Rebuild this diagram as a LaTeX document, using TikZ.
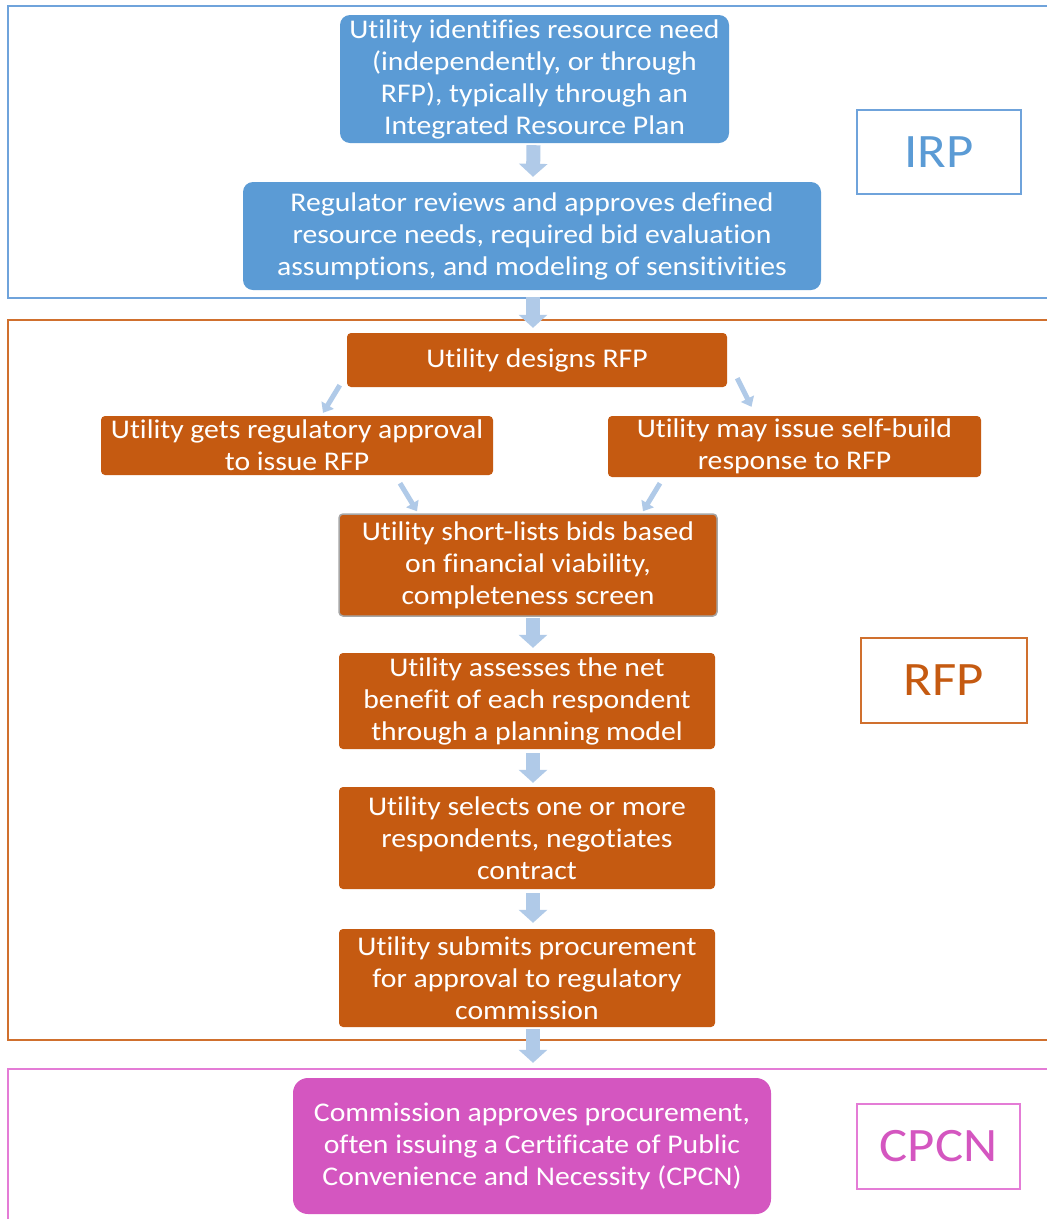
\documentclass[tikz,border=0pt]{standalone}
\usepackage{fontspec}
\setmainfont[FakeStretch=1.1,Ligatures=NoCommon]{Carlito}
\usetikzlibrary{arrows.meta,calc}
\definecolor{blueb}{HTML}{5B9BD5}
\definecolor{orangeb}{HTML}{C55A11}
\definecolor{pinkb}{HTML}{D456C0}
\definecolor{arrowc}{HTML}{B0CAE8}
\definecolor{irpframe}{HTML}{6FA3DB}
\definecolor{rfpframe}{HTML}{D0702E}
\definecolor{cpcnframe}{HTML}{E47CD6}
\begin{document}
\begin{tikzpicture}[x=1pt,y=-1pt,
  box/.style={text=white, align=center, font=\fontsize{27}{32}\selectfont, inner sep=0pt, rectangle},
  bluebox/.style={box, fill=blueb, rounded corners=10pt},
  orangebox/.style={box, fill=orangeb, rounded corners=4pt},
  pinkbox/.style={box, fill=pinkb, rounded corners=15pt},
  tag/.style={draw, line width=1.5pt, fill=white, inner sep=0pt, font=\fontsize{48}{52}\selectfont},
  frame/.style={line width=2pt},
  blockarrow/.style={draw=arrowc, line width=14pt, -{Triangle[width=28pt,length=13pt]}},
  thinarrow/.style={draw=arrowc, line width=5pt, -{Triangle[width=14pt,length=9pt]}}
  ]
\clip (0,0) rectangle (1047,1219);
\fill[white] (0,0) rectangle (1047,1219);
% frames
\draw[frame, irpframe] (8,6) rectangle (1070,298);
\draw[frame, rfpframe] (8,320) rectangle (1070,1040);
\draw[frame, cpcnframe] (8,1069) rectangle (1070,1260);
% IRP section
\node[bluebox, minimum width=389pt, minimum height=128pt] (b1) at (534.5,79)
  {Utility identifies resource need\\(independently, or through\\RFP), typically through an\\Integrated Resource Plan};
\node[bluebox, minimum width=578pt, minimum height=108pt] (b2) at (532,236)
  {Regulator reviews and approves defined\\resource needs, required bid evaluation\\assumptions, and modeling of sensitivities};
\node[tag, draw=irpframe, text=blueb, minimum width=164pt, minimum height=84pt] (irp) at (939,152) {IRP};
% RFP section
\node[orangebox, minimum width=380pt, minimum height=54pt] (design) at (537,360) {Utility designs RFP};
\node[orangebox, minimum width=392pt, minimum height=59pt] (gets) at (297,445.5)
  {Utility gets regulatory approval\\to issue RFP};
\node[orangebox, minimum width=373pt, minimum height=61pt] (self) at (794.5,446.5)
  {Utility may issue self-build\\response to RFP};
\node[orangebox, draw=gray!70, line width=1.5pt, minimum width=378pt, minimum height=102pt] (short) at (528,565)
  {Utility short-lists bids based\\on financial viability,\\completeness screen};
\node[orangebox, minimum width=376pt, minimum height=96pt] (assess) at (527,701)
  {Utility assesses the net\\benefit of each respondent\\through a planning model};
\node[orangebox, minimum width=376pt, minimum height=102pt] (select) at (527,838)
  {Utility selects one or more\\respondents, negotiates\\contract};
\node[orangebox, minimum width=376pt, minimum height=98pt] (submit) at (527,978)
  {Utility submits procurement\\for approval to regulatory\\commission};
\node[tag, draw=rfpframe, text=orangeb, minimum width=166pt, minimum height=85pt] (rfp) at (944,680.5) {RFP};
% CPCN section
\node[pinkbox, minimum width=478pt, minimum height=136pt] (cpcn) at (532,1146)
  {Commission approves procurement,\\often issuing a Certificate of Public\\Convenience and Necessity (CPCN)};
\node[tag, draw=cpcnframe, text=pinkb, minimum width=163pt, minimum height=85pt] (cpcntag) at (938.5,1146.5) {CPCN};
% arrows
\draw[blockarrow] ($(b1.south)+(-1,2)$) -- ($(b2.north)+(1,-5)$);
\draw[blockarrow] ($(b2.south)+(1,7)$) -- ($(design.north)+(-4,-5)$);
\draw[blockarrow] ($(short.south)+(5,1)$) -- ($(assess.north)+(6,-5)$);
\draw[blockarrow] ($(assess.south)+(6,4)$) -- ($(select.north)+(6,-4)$);
\draw[blockarrow] ($(select.south)+(6,4)$) -- ($(submit.north)+(6,-6)$);
\draw[blockarrow] ($(submit.south)+(6,2)$) -- ($(cpcn.north)+(1,-15)$);
\draw[thinarrow] ($(design.south west)+(-7,-2)$) -- ($(gets.north)+(26,-3)$);
\draw[thinarrow] ($(design.south east)+(10,-9)$) -- ($(self.north)+(-43,-9)$);
\draw[thinarrow] ($(gets.south)+(103,8)$) -- ($(short.north)+(-111,-2)$);
\draw[thinarrow] ($(self.south)+(-134.5,6)$) -- ($(short.north)+(115,-2)$);
\end{tikzpicture}
\end{document}
